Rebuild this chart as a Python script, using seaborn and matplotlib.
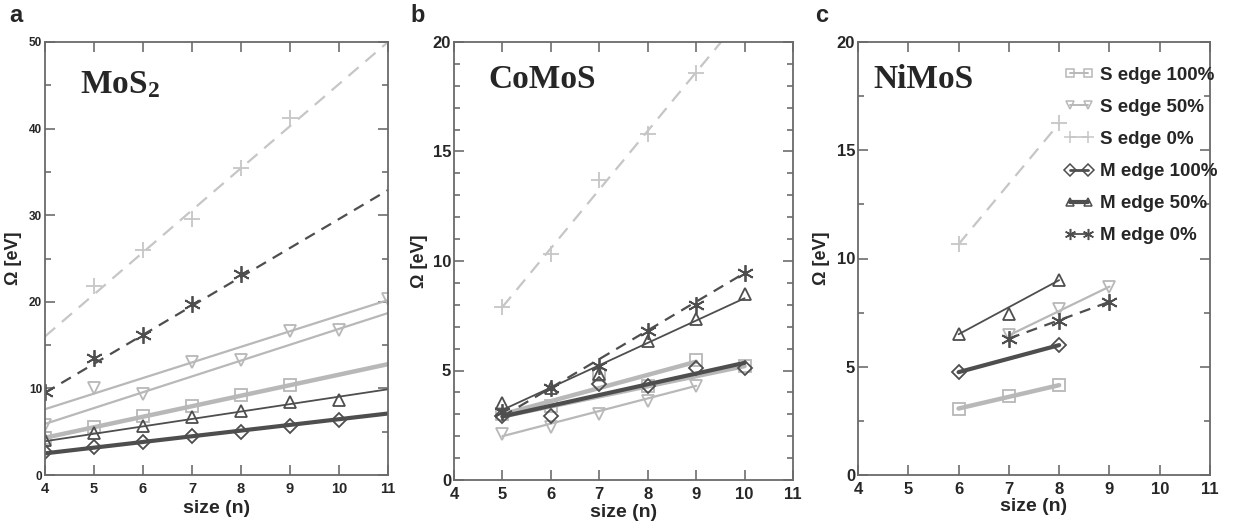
import matplotlib
matplotlib.use("Agg")
import matplotlib.pyplot as plt
import seaborn as sns
from matplotlib.lines import Line2D
from matplotlib.ticker import MultipleLocator

# ---------------- data ----------------
series_names = ["S edge 100%", "S edge 50%", "S edge 0%",
                "M edge 100%", "M edge 50%", "M edge 0%"]

# Panel a : MoS2  (markers + fitted lines drawn between end values)
a_s100_x = [4, 5, 6, 7, 8, 9];          a_s100_y = [4.3, 5.6, 6.8, 8.0, 9.2, 10.4]
a_s100_lx = [4, 11];                    a_s100_ly = [4.3, 12.8]
a_s50o_x = [5, 7, 9, 11];               a_s50o_y = [10.1, 13.0, 16.6, 20.3]
a_s50o_lx = [4, 11];                    a_s50o_ly = [7.6, 20.2]
a_s50e_x = [4, 6, 8, 10];               a_s50e_y = [5.8, 9.4, 13.3, 16.8]
a_s50e_lx = [4, 11];                    a_s50e_ly = [5.9, 18.7]
a_s0_x = [5, 6, 7, 8, 9];               a_s0_y = [21.8, 26.0, 29.6, 35.4, 41.2]
a_s0_lx = [4, 11];                      a_s0_ly = [16.0, 50.0]
a_m100_x = [4, 5, 6, 7, 8, 9, 10];      a_m100_y = [2.7, 3.2, 3.8, 4.5, 5.0, 5.7, 6.4]
a_m100_lx = [4, 11];                    a_m100_ly = [2.5, 7.1]
a_m50_x = [4, 5, 6, 7, 8, 9, 10];       a_m50_y = [4.0, 4.9, 5.7, 6.7, 7.4, 8.4, 8.7]
a_m50_lx = [4, 11];                     a_m50_ly = [3.9, 9.9]
a_m0_x = [4, 5, 6, 7, 8];               a_m0_y = [9.6, 13.5, 16.2, 19.7, 23.2]
a_m0_lx = [4, 11];                      a_m0_ly = [9.5, 32.9]

# Panel b : CoMoS
b_s100o_x = [5, 7, 9];                  b_s100o_y = [3.0, 4.8, 5.5]
b_s100o_lx = [5, 9];                    b_s100o_ly = [3.0, 5.4]
b_s100e_x = [6, 8, 10];                 b_s100e_y = [3.4, 4.3, 5.2]
b_s100e_lx = [5, 10];                   b_s100e_ly = [2.9, 5.2]
b_s50_x = [5, 6, 7, 8, 9];              b_s50_y = [2.1, 2.4, 3.0, 3.6, 4.3]
b_s50_lx = [5, 9];                      b_s50_ly = [2.0, 4.3]
b_s0_x = [5, 6, 7, 8, 9];               b_s0_y = [7.9, 10.3, 13.7, 15.8, 18.6]
b_s0_lx = [5, 10];                      b_s0_ly = [7.9, 21.3]
b_m100_x = [5, 6, 7, 8, 9, 10];         b_m100_y = [2.9, 2.9, 4.4, 4.3, 5.1, 5.1]
b_m100_lx = [5, 10];                    b_m100_ly = [2.9, 5.35]
b_m50_x = [5, 6, 7, 8, 9, 10];          b_m50_y = [3.5, 4.2, 4.85, 6.35, 7.35, 8.5]
b_m50_lx = [5, 10];                     b_m50_ly = [3.2, 8.3]
b_m0_x = [5, 6, 7, 8, 9, 10];           b_m0_y = [3.1, 4.2, 5.2, 6.8, 8.0, 9.45]
b_m0_lx = [5, 10];                      b_m0_ly = [2.9, 9.45]

# Panel c : NiMoS
c_s100_x = [6, 7, 8];                   c_s100_y = [3.07, 3.67, 4.15]
c_s100_lx = [6, 8];                     c_s100_ly = [3.07, 4.15]
c_s50_x = [7, 8, 9];                    c_s50_y = [6.45, 7.65, 8.7]
c_s50_lx = [7, 9];                      c_s50_ly = [6.45, 8.7]
c_s0_x = [6, 8];                        c_s0_y = [10.66, 16.24]
c_s0_lx = [6, 8];                       c_s0_ly = [10.66, 16.24]
c_m100_x = [6, 8];                      c_m100_y = [4.75, 6.0]
c_m100_lx = [6, 8];                     c_m100_ly = [4.75, 6.0]
c_m50_x = [6, 7, 8];                    c_m50_y = [6.5, 7.45, 9.0]
c_m50_lx = [6, 8];                      c_m50_ly = [6.5, 9.0]
c_m0_x = [7, 8, 9];                     c_m0_y = [6.3, 7.1, 8.0]
c_m0_lx = [7, 9];                       c_m0_ly = [6.3, 8.0]

panel_titles = [r"$\mathbf{MoS_2}$", "CoMoS", "NiMoS"]
panel_letters = ["a", "b", "c"]
x_label = "size (n)"
y_label = "Ω [eV]"

# ---------------- styles ----------------
LIGHT = "#b8b8b8"
LIGHTER = "#c6c6c6"
DARK = "#4e4e4e"
styles = {
    "S edge 100%": dict(color=LIGHT, lw=3.2, ls="-", marker="s", ms=8),
    "S edge 50%": dict(color=LIGHT, lw=1.6, ls="-", marker="v", ms=8.5),
    "S edge 0%": dict(color=LIGHTER, lw=1.6, ls=(0, (6, 4)), marker="+", ms=12),
    "M edge 100%": dict(color=DARK, lw=3.0, ls="-", marker="D", ms=7),
    "M edge 50%": dict(color=DARK, lw=1.3, ls="-", marker="^", ms=8.5),
    "M edge 0%": dict(color=DARK, lw=1.6, ls=(0, (5, 3.5)), marker=(6, 2, 0), ms=12),
}

sns.set_theme(style="white")
plt.rcParams["font.family"] = ["Liberation Sans", "DejaVu Sans"]
plt.rcParams["mathtext.fontset"] = "custom"
plt.rcParams["mathtext.rm"] = "Liberation Serif:bold"
plt.rcParams["mathtext.bf"] = "Liberation Serif:bold"
plt.rcParams["mathtext.it"] = "Liberation Serif:bold"

fig = plt.figure(figsize=(12.36, 5.31), dpi=100)
fig.patch.set_facecolor("white")

axes_rects = [
    [45 / 1236, 1 - 475 / 531, 343 / 1236, 433 / 531],
    [454 / 1236, 1 - 480 / 531, 339 / 1236, 438 / 531],
    [858 / 1236, 1 - 475 / 531, 352 / 1236, 433 / 531],
]
axs = [fig.add_axes(r) for r in axes_rects]


def draw(ax, name, mx, my, lx, ly):
    st = styles[name]
    sns.lineplot(x=lx, y=ly, ax=ax, color=st["color"], linewidth=st["lw"],
                 linestyle=st["ls"], estimator=None, sort=False, errorbar=None,
                 legend=False)
    filled = st["marker"] not in ("+", (6, 2, 0))
    kw = dict(markerfacecolor="none") if filled else {}
    sns.lineplot(x=mx, y=my, ax=ax, color=st["color"], linestyle="",
                 marker=st["marker"], markersize=st["ms"],
                 markeredgecolor=st["color"], markeredgewidth=1.3,
                 estimator=None, sort=False, errorbar=None, legend=False, **kw)


# panel a
ax = axs[0]
draw(ax, "S edge 0%", a_s0_x, a_s0_y, a_s0_lx, a_s0_ly)
draw(ax, "S edge 50%", a_s50o_x, a_s50o_y, a_s50o_lx, a_s50o_ly)
draw(ax, "S edge 50%", a_s50e_x, a_s50e_y, a_s50e_lx, a_s50e_ly)
draw(ax, "S edge 100%", a_s100_x, a_s100_y, a_s100_lx, a_s100_ly)
draw(ax, "M edge 0%", a_m0_x, a_m0_y, a_m0_lx, a_m0_ly)
draw(ax, "M edge 50%", a_m50_x, a_m50_y, a_m50_lx, a_m50_ly)
draw(ax, "M edge 100%", a_m100_x, a_m100_y, a_m100_lx, a_m100_ly)

# panel b
ax = axs[1]
draw(ax, "S edge 0%", b_s0_x, b_s0_y, b_s0_lx, b_s0_ly)
draw(ax, "S edge 50%", b_s50_x, b_s50_y, b_s50_lx, b_s50_ly)
draw(ax, "S edge 100%", b_s100o_x, b_s100o_y, b_s100o_lx, b_s100o_ly)
draw(ax, "S edge 100%", b_s100e_x, b_s100e_y, b_s100e_lx, b_s100e_ly)
draw(ax, "M edge 0%", b_m0_x, b_m0_y, b_m0_lx, b_m0_ly)
draw(ax, "M edge 50%", b_m50_x, b_m50_y, b_m50_lx, b_m50_ly)
draw(ax, "M edge 100%", b_m100_x, b_m100_y, b_m100_lx, b_m100_ly)

# panel c
ax = axs[2]
draw(ax, "S edge 0%", c_s0_x, c_s0_y, c_s0_lx, c_s0_ly)
draw(ax, "S edge 50%", c_s50_x, c_s50_y, c_s50_lx, c_s50_ly)
draw(ax, "S edge 100%", c_s100_x, c_s100_y, c_s100_lx, c_s100_ly)
draw(ax, "M edge 0%", c_m0_x, c_m0_y, c_m0_lx, c_m0_ly)
draw(ax, "M edge 50%", c_m50_x, c_m50_y, c_m50_lx, c_m50_ly)
draw(ax, "M edge 100%", c_m100_x, c_m100_y, c_m100_lx, c_m100_ly)

# axes formatting
ylims = [(0, 50), (0, 20), (0, 20)]
ymaj = [10, 5, 5]
ymin = [5, 1, 2.5]
ytick_fs = [8.5, 12, 12]
xtick_fs = [10.5, 12, 12]
xtick_pad = [5, 5, 5]
ylab_x = [-0.066, -0.076, -0.08]
xlab_y = [-0.058, -0.054, -0.052]
for i, ax in enumerate(axs):
    ax.set_xlim(4, 11)
    ax.set_ylim(*ylims[i])
    ax.xaxis.set_major_locator(MultipleLocator(1))
    ax.yaxis.set_major_locator(MultipleLocator(ymaj[i]))
    ax.yaxis.set_minor_locator(MultipleLocator(ymin[i]))
    ax.tick_params(which="both", direction="in", top=True, right=True,
                   bottom=True, left=True, color="#606060", width=1.1)
    ax.tick_params(which="major", length=7)
    ax.tick_params(which="minor", length=4)
    ax.tick_params(axis="y", which="major", labelsize=ytick_fs[i], pad=2)
    ax.tick_params(axis="x", which="major", labelsize=xtick_fs[i], pad=xtick_pad[i])
    for lab in ax.get_xticklabels() + ax.get_yticklabels():
        lab.set_fontweight("bold")
    for sp in ax.spines.values():
        sp.set_color("#6a6a6a")
        sp.set_linewidth(1.3)
        sp.set_visible(True)
    ax.set_xlabel(x_label, fontsize=14, fontweight="bold")
    ax.set_ylabel(y_label, fontsize=13, fontweight="bold")
    ax.xaxis.set_label_coords(0.5, xlab_y[i])
    ax.yaxis.set_label_coords(ylab_x[i], 0.5)
    ax.grid(False)

title_pos = [(0.102, 0.882), (0.10, 0.895), (0.043, 0.894)]
for i, ax in enumerate(axs):
    ax.text(title_pos[i][0], title_pos[i][1], panel_titles[i],
            transform=ax.transAxes, fontsize=24, fontweight="bold",
            family=["Liberation Serif", "DejaVu Serif"], va="baseline", ha="left")

letter_pos = [(16, 16), (418, 16), (822, 15)]
for (px, py), letter in zip(letter_pos, panel_letters):
    fig.text(px / 1236, 1 - py / 531, letter, fontsize=17, fontweight="bold",
             ha="center", va="center")

# legend (panel c)
handles = []
leg_lw = {"S edge 100%": 1.4, "S edge 50%": 1.4, "S edge 0%": 1.2,
          "M edge 100%": 2.0, "M edge 50%": 3.0, "M edge 0%": 1.3}
for name in series_names:
    st = styles[name]
    filled = st["marker"] not in ("+", (6, 2, 0))
    handles.append(Line2D([0], [0], color=st["color"], lw=leg_lw[name], ls="-",
                          marker=st["marker"], markersize=6 if filled else 8,
                          markerfacecolor="none" if filled else st["color"],
                          markeredgecolor=st["color"], markeredgewidth=1.1))
leg = axs[2].legend(handles, series_names, loc="upper left",
                    bbox_to_anchor=(0.585, 0.943), frameon=False, numpoints=2,
                    handlelength=1.6, handletextpad=0.3, labelspacing=0.8,
                    borderpad=0, borderaxespad=0,
                    prop=dict(size=13.5, weight="bold"))

fig.savefig("out.png", dpi=100, facecolor="white")
